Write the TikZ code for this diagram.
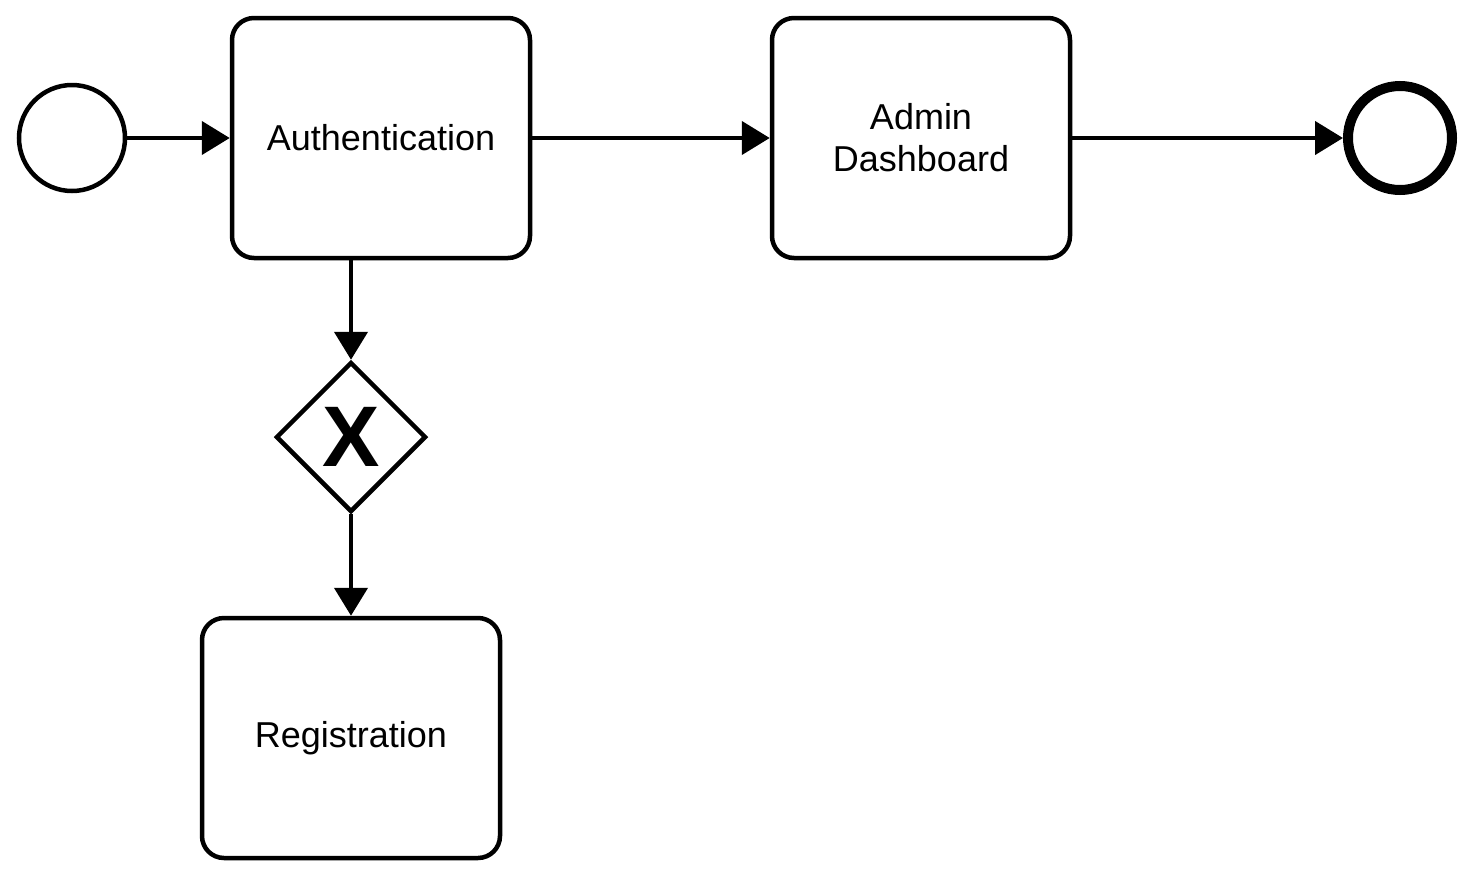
\documentclass[tikz,border=0pt]{standalone}
\usepackage{fontspec}
\setmainfont{Liberation Sans}
\usetikzlibrary{arrows.meta,shapes.geometric}
\begin{document}
\begin{tikzpicture}[x=1pt,y=-1pt,
  task/.style={draw,line width=4.5pt,rounded corners=22pt,minimum width=298pt,minimum height=240pt,
    align=center,font=\fontsize{36}{42}\selectfont,inner sep=0pt},
  startev/.style={draw,circle,line width=4.5pt,minimum size=106pt,inner sep=0pt},
  endev/.style={draw,circle,line width=10pt,minimum size=104pt,inner sep=0pt},
  gate/.style={draw,diamond,aspect=1,line width=4.5pt,minimum width=150pt,minimum height=150pt,inner sep=0pt,
    font=\fontsize{86}{86}\selectfont\bfseries},
  flow/.style={line width=4.5pt,-{Triangle[length=28pt,width=33pt]}}]
\useasboundingbox (0,0) rectangle (1473,876);
\node[startev] (start) at (72,138) {};
\node[task] (auth) at (381,138) {Authentication};
\node[task] (admin) at (921,138) {Admin\\Dashboard};
\node[endev] (end) at (1400,138) {};
\node[gate] (gw) at (351,437) {X};
\node[task] (reg) at (351,738) {Registration};
\draw[flow] (start) -- (auth);
\draw[flow] (auth) -- (admin);
\draw[flow] (admin) -- (end);
\draw[flow] (auth.south -| gw.north) -- (gw.north);
\draw[flow] (gw.south) -- (reg.north);
\end{tikzpicture}
\end{document}
